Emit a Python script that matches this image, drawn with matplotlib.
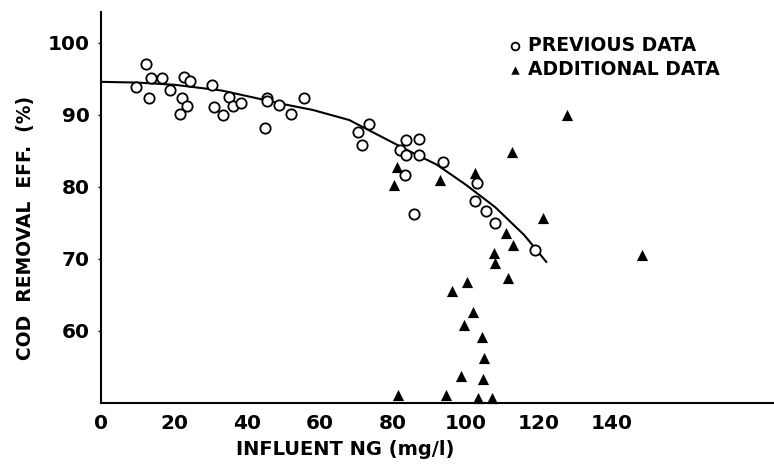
import matplotlib
matplotlib.use('Agg')
import matplotlib.pyplot as plt

plt.rcParams['font.family'] = ['DejaVu Sans']
plt.rcParams['font.weight'] = 'bold'

# ---------- data ----------
prev_x = [12.2, 9.5, 13.7, 13.2, 16.6, 19.0, 22.8, 24.4, 22.1, 23.6, 21.6, 30.3, 31.0,
          33.3, 35.2, 36.3, 38.4, 45.6, 45.4, 48.8, 52.0, 55.6, 44.9, 73.4, 70.5, 71.4,
          83.7, 87.0, 81.9, 83.7, 87.2, 83.4, 93.6, 85.8, 102.9, 102.5, 105.5, 107.9, 118.9]
prev_y = [97.1, 93.9, 95.1, 92.3, 95.1, 93.5, 95.3, 94.7, 92.4, 91.25, 90.1, 94.2, 91.1,
          90.0, 92.5, 91.25, 91.7, 92.3, 91.9, 91.4, 90.2, 92.4, 88.2, 88.75, 87.7, 85.8,
          86.5, 86.6, 85.1, 84.4, 84.4, 81.7, 83.5, 76.3, 80.5, 78.0, 76.7, 75.0, 71.25]

add_x = [81.0, 80.3, 92.9, 102.5, 127.6, 112.5, 121.0, 111.1, 113.0, 107.7, 108.0, 111.4,
         100.2, 96.3, 102.0, 99.5, 104.3, 105.0, 98.7, 104.7, 81.5, 94.5, 103.4, 107.0, 148.1]
add_y = [82.8, 80.3, 81.0, 81.9, 90.0, 84.9, 75.65, 73.65, 71.9, 70.8, 69.4, 67.3,
         66.85, 65.6, 62.6, 60.8, 59.2, 56.3, 53.75, 53.4, 51.1, 51.1, 50.7, 50.7, 70.6]

# fitted curve, points
fit_x = [0, 10, 20, 33, 42, 50, 58, 68, 76, 84, 92, 100, 108, 116, 122]
fit_y = [94.6, 94.5, 94.2, 93.4, 92.4, 91.5, 90.7, 89.3, 87.2, 85.1, 83.1, 80.3, 77.2, 73.3, 69.6]

x_ticks = [0, 20, 40, 60, 80, 100, 120, 140]
y_ticks = [60, 70, 80, 90, 100]

# ---------- plot ----------
fig = plt.figure(figsize=(7.74, 4.65), dpi=100)
ax = fig.add_axes([101/774, 62/465, 673/774, 391/465])

ax.plot(fit_x, fit_y, color='black', lw=1.5, zorder=2)
ax.scatter(prev_x, prev_y, s=55, marker='o', facecolors='white', edgecolors='black',
           linewidths=1.3, zorder=3, clip_on=False, label='PREVIOUS DATA')
ax.scatter(add_x, add_y, s=65, marker='^', color='black', linewidths=0,
           zorder=4, clip_on=False, label='ADDITIONAL DATA')

ax.set_xlim(0, 184.4)
ax.set_ylim(50, 104.3)
ax.set_xticks(x_ticks)
ax.set_yticks(y_ticks)
ax.tick_params(axis='x', length=0, pad=8, labelsize=14.5)
ax.tick_params(axis='y', length=2, width=1, pad=6, labelsize=14.5)

for s in ['top', 'right']:
    ax.spines[s].set_visible(False)
for s in ['left', 'bottom']:
    ax.spines[s].set_linewidth(1.5)

ax.set_xlabel('INFLUENT NG (mg/l)', fontsize=14, fontweight='bold')
ax.xaxis.set_label_coords((345 - 101) / 673, -(440 - 403) / 391)
ax.set_ylabel('COD  REMOVAL  EFF.  (%)', fontsize=13.5, fontweight='bold')
ax.yaxis.set_label_coords((35 - 101) / 673, (403 - 228) / 391)

ax.legend(loc='upper left', bbox_to_anchor=(508/774, 1 - 36/465), bbox_transform=fig.transFigure,
          frameon=False, fontsize=13.5, markerscale=0.75, handlelength=0.7, handletextpad=0.35,
          borderpad=0, borderaxespad=0, labelspacing=0.25)

fig.savefig('out.png', dpi=100)
